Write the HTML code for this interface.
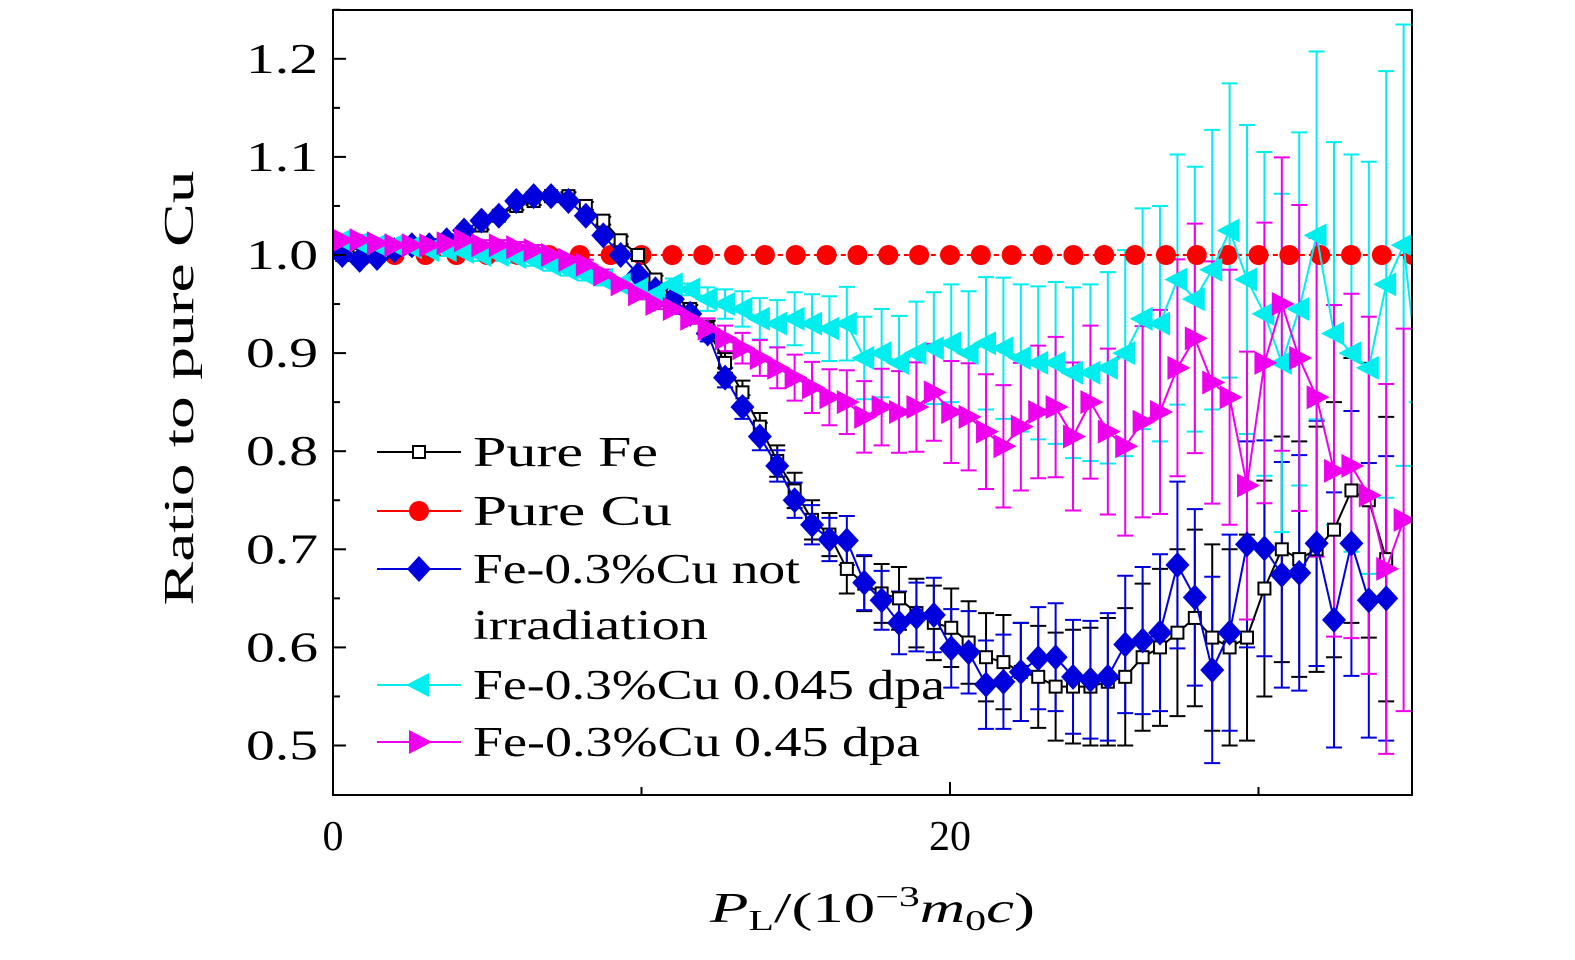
<!DOCTYPE html>
<html><head><meta charset="utf-8"><style>
body{margin:0;background:#fff;}
svg text{font-family:"Liberation Serif",serif;}
</style></head><body>
<svg id="chart" width="1575" height="955" xmlns="http://www.w3.org/2000/svg">
<defs><clipPath id="clip"><rect x="333" y="10" width="1079" height="785"/></clipPath></defs>
<g id="plot" clip-path="url(#clip)"></g>
<rect x="333" y="10" width="1079" height="785" fill="none" stroke="#000" stroke-width="2"/>
<g id="axes"></g>
<text x="193" y="388" font-size="42" text-anchor="middle" textLength="435" lengthAdjust="spacingAndGlyphs" transform="rotate(-90 193 388)">Ratio to pure Cu</text>
<text x="710" y="922" font-size="42" textLength="325" lengthAdjust="spacingAndGlyphs"><tspan font-style="italic">P</tspan><tspan font-size="28" dy="8">L</tspan><tspan dy="-8">/(10</tspan><tspan font-size="28" dy="-16">−3</tspan><tspan dy="16" font-style="italic">m</tspan><tspan font-size="28" dy="8">0</tspan><tspan dy="-8" font-style="italic">c</tspan><tspan>)</tspan></text>
<g id="legend"></g>
</svg>
<script>
const xStart=0.3, xStep=0.564;
const xTicks=[0,20];
const xMinor=[10,30];
const yTicks=[0.5,0.6,0.7,0.8,0.9,1.0,1.1,1.2];
const yTickLabels=["0.5","0.6","0.7","0.8","0.9","1.0","1.1","1.2"];
const cuX=[1,2,3,4,5,6,7,8,9,10,11,12,13,14,15,16,17,18,19,20,21,22,23,24,25,26,27,28,29,30,31,32,33,34,35];
const cuY=cuX.map(()=>1.0);
const feY=[1.0,1.0,1.0,1.005,1.01,1.01,1.015,1.02,1.03,1.04,1.05,1.055,1.06,1.06,1.05,1.035,1.015,1.0,0.975,0.96,0.945,0.925,0.89,0.86,0.825,0.79,0.76,0.73,0.715,
0.68,0.665,0.655,0.65,0.635,0.625,0.62,0.605,0.59,0.585,0.575,0.57,0.56,0.56,0.56,0.565,0.57,0.59,0.6,0.615,0.63,0.61,0.6,0.61,0.66,0.70,0.69,0.70,0.72,0.76,0.75,0.69];
const blueY=[1.0,0.995,0.997,1.005,1.01,1.01,1.015,1.025,1.035,1.04,1.055,1.06,1.06,1.055,1.04,1.02,1.0,0.98,0.965,0.955,0.94,0.92,0.875,0.845,0.815,0.785,0.75,0.725,0.71,
0.709,0.666,0.648,0.625,0.631,0.633,0.599,0.595,0.562,0.565,0.575,0.589,0.59,0.57,0.567,0.57,0.603,0.607,0.615,0.684,0.651,0.577,0.615,0.705,0.701,0.674,0.676,0.706,0.628,0.706,0.648,0.65];
const cyanY=[1.015,1.012,1.01,1.01,1.008,1.005,1.005,1.003,1.0,1.0,0.998,0.995,0.99,0.985,0.98,0.975,0.97,0.965,0.96,0.97,0.965,0.955,0.95,0.945,0.935,0.93,0.935,0.93,0.925,0.93,0.895,
0.9,0.89,0.9,0.905,0.91,0.9,0.91,0.905,0.895,0.89,0.89,0.88,0.88,0.885,0.9,0.935,0.93,0.975,0.955,0.985,1.025,0.975,0.94,0.89,0.945,1.02,0.92,0.90,0.885,0.97,1.01,0.85,0.92];
const magY=[1.015,1.015,1.012,1.01,1.01,1.01,1.012,1.015,1.01,1.01,1.008,1.005,1.0,0.995,0.99,0.98,0.97,0.96,0.95,0.945,0.935,0.925,0.915,0.905,0.895,0.885,0.875,0.865,0.855,0.85,
0.835,0.845,0.84,0.845,0.86,0.84,0.835,0.82,0.805,0.825,0.84,0.845,0.815,0.85,0.82,0.805,0.83,0.84,0.885,0.915,0.87,0.855,0.765,0.89,0.95,0.895,0.855,0.78,0.785,0.755,0.68,0.73];
const errBase=[0.004,0.004,0.004,0.004,0.004,0.004,0.004,0.004,0.004,0.004,0.004,0.004,0.004,0.004,0.004,0.004,0.004,0.004,0.004,0.004,0.004,
0.008,0.01,0.012,0.014,0.016,0.018,0.02,0.022,0.025,0.028,0.03,0.032,0.035,0.038,0.04,0.042,0.045,0.048,0.05,0.052,
0.055,0.058,0.06,0.065,0.07,0.075,0.08,0.085,0.09,0.095,0.1,0.105,0.11,0.115,0.12,0.125,0.13,0.135,0.14,0.145,0.15,0.155,0.16];
const errScale=[1.0,1.0,1.5,1.3];

const X=v=>333+v*30.85, Y=v=>255-(v-1.0)*981;
const NS="http://www.w3.org/2000/svg";
function mk(parent,tag,attrs){const e=document.createElementNS(NS,tag);for(const k in attrs)e.setAttribute(k,attrs[k]);parent.appendChild(e);return e;}
const plot=document.getElementById('plot'), axes=document.getElementById('axes'), legend=document.getElementById('legend');

yTicks.forEach((t,i)=>{
  const l=mk(axes,'line',{x1:333,x2:346,y1:Y(t),y2:Y(t),stroke:'#000','stroke-width':2});
  
  
  const m=mk(axes,'line',{x1:333,x2:340,y1:Y(t+0.05),y2:Y(t+0.05),stroke:'#000','stroke-width':2});
  
  
  const tx=mk(axes,'text',{x:246,y:Y(t)+14,'font-size':42,textLength:72,lengthAdjust:'spacingAndGlyphs'});
  tx.textContent=yTickLabels[i];
  
  
});
xTicks.forEach(t=>{
  const l=mk(axes,'line',{x1:X(t),x2:X(t),y1:795,y2:782,stroke:'#000','stroke-width':2});
  
  
  const tx=mk(axes,'text',{x:X(t),y:850,'font-size':42,'text-anchor':'middle'});
  tx.textContent=String(t);
  
  
});
xMinor.forEach(t=>{
  const l=mk(axes,'line',{x1:X(t),x2:X(t),y1:795,y2:787,stroke:'#000','stroke-width':2});
  
  
});

function marker(g,type,cx,cy,col){
  let e;
  if(type==='sq') e=mk(g,'rect',{x:cx-6,y:cy-6,width:12,height:12,fill:'#fff',stroke:col,'stroke-width':2});
  else if(type==='ci') e=mk(g,'circle',{cx:cx,cy:cy,r:10,fill:col});
  else if(type==='di') e=mk(g,'polygon',{points:`${cx},${cy-13} ${cx+12},${cy} ${cx},${cy+13} ${cx-12},${cy}`,fill:col});
  else if(type==='tl') e=mk(g,'polygon',{points:`${cx-13},${cy} ${cx+10},${cy-12} ${cx+10},${cy+12}`,fill:col});
  else e=mk(g,'polygon',{points:`${cx+13},${cy} ${cx-10},${cy-12} ${cx-10},${cy+12}`,fill:col});
  return e;
}
const series=[
 {name:'pure-fe',ys:feY,col:'#000',m:'sq',e:0},
 {name:'fe-cu-not-irradiated',ys:blueY,col:'#0000dd',m:'di',e:1},
 {name:'fe-cu-0045-dpa',ys:cyanY,col:'#00eeee',m:'tl',e:2},
 {name:'fe-cu-045-dpa',ys:magY,col:'#ee00ee',m:'tr',e:3},
];
series.forEach(s=>{
  const g=mk(plot,'g',{});
  
  
  s.ys.forEach((v,i)=>{
    const x=X(xStart+xStep*i), er=errBase[Math.min(i,errBase.length-1)]*errScale[s.e];
    const y1=Y(v-er), y2=Y(v+er);
    mk(g,'line',{x1:x,x2:x,y1:y1,y2:y2,stroke:s.col,'stroke-width':2});
    mk(g,'line',{x1:x-8,x2:x+8,y1:y1,y2:y1,stroke:s.col,'stroke-width':2});
    mk(g,'line',{x1:x-8,x2:x+8,y1:y2,y2:y2,stroke:s.col,'stroke-width':2});
  });
});
{
  const g=mk(plot,'g',{});
  
  
  mk(g,'polyline',{points:cuX.map((x,i)=>X(x)+','+Y(cuY[i])).join(' '),fill:'none',stroke:'#f00','stroke-width':2,'stroke-dasharray':'5,4'});
  cuX.forEach((x,i)=>{const c=marker(g,'ci',X(x),Y(cuY[i]),'#f00');
    
    });
}
series.forEach(s=>{
  const g=mk(plot,'g',{});
  
  
  mk(g,'polyline',{points:s.ys.map((v,i)=>X(xStart+xStep*i)+','+Y(v)).join(' '),fill:'none',stroke:s.col,'stroke-width':2});
  s.ys.forEach((v,i)=>{const p=marker(g,s.m,X(xStart+xStep*i),Y(v),s.col);
    
    });
});
const leg=[
 {lines:['Pure Fe'],w:[185],col:'#000',m:'sq',y:452},
 {lines:['Pure Cu'],w:[199],col:'#f00',m:'ci',y:511},
 {lines:['Fe-0.3%Cu not','irradiation'],w:[327,235],col:'#0000dd',m:'di',y:569},
 {lines:['Fe-0.3%Cu 0.045 dpa'],w:[472],col:'#00eeee',m:'tl',y:685},
 {lines:['Fe-0.3%Cu 0.45 dpa'],w:[447],col:'#ee00ee',m:'tr',y:742},
];
leg.forEach(l=>{
  const g=mk(legend,'g',{});
  
  
  mk(g,'line',{x1:377,x2:461,y1:l.y,y2:l.y,stroke:l.col,'stroke-width':2});
  marker(g,l.m,419,l.y,l.col);
  l.lines.forEach((t,j)=>{const tx=mk(g,'text',{x:473,y:l.y+14+j*56,'font-size':42,textLength:l.w[j],lengthAdjust:'spacingAndGlyphs'});tx.textContent=t;});
});
</script>
</body></html>
